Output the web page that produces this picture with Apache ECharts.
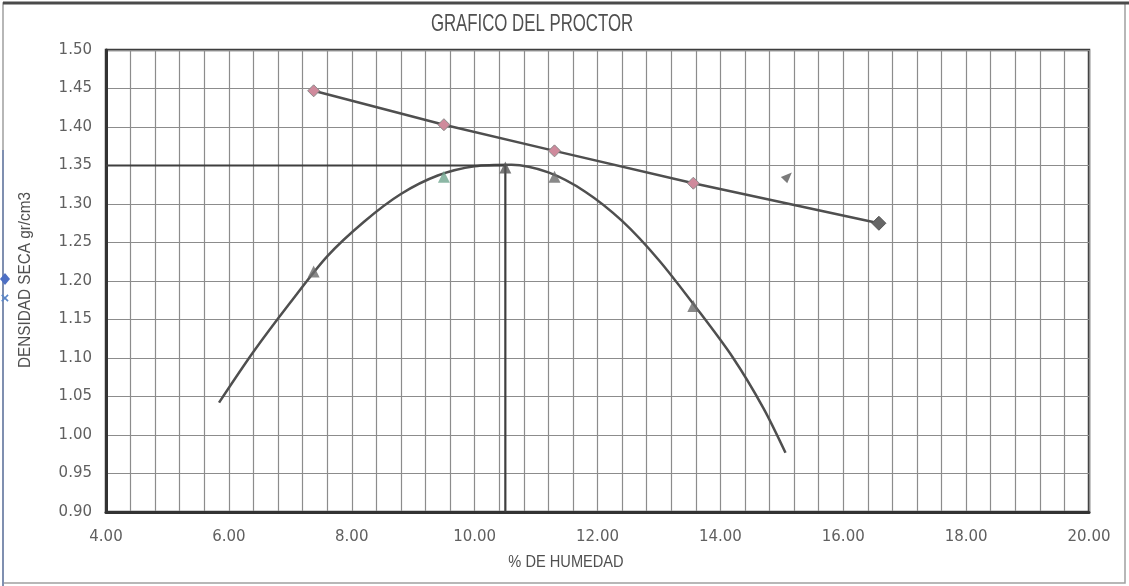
<!DOCTYPE html>
<html>
<head>
<meta charset="utf-8">
<title>GRAFICO DEL PROCTOR</title>
<script src="https://cdn.jsdelivr.net/npm/echarts@6/dist/echarts.min.js"></script>
<style>
  html, body { margin: 0; padding: 0; background: #ffffff; }
  #chart { width: 1129px; height: 586px; }
</style>
</head>
<body>
<div id="chart"></div>
<script>
// Ensayo Proctor: puntos de densidad seca vs. humedad
const humedad = [7.38, 9.50, 10.50, 11.30, 13.56];
const densidadSeca = [1.215, 1.338, 1.350, 1.338, 1.170];

// Curva de saturación (diamantes)
const saturacionX = [7.38, 9.50, 11.30, 13.56, 16.58];
const saturacionY = [1.447, 1.403, 1.369, 1.327, 1.275];

// Curva de compactación ajustada
const curvaX = [5.84, 6.40, 7.00, 7.60, 8.20, 8.80, 9.40, 10.00, 10.60, 11.20, 11.80, 12.40, 13.00, 13.60, 14.20, 14.70, 15.06];
const curvaY = [1.042, 1.108, 1.172, 1.232, 1.277, 1.313, 1.337, 1.349, 1.351, 1.341, 1.316, 1.278, 1.227, 1.166, 1.101, 1.035, 0.977];

// Humedad óptima y densidad máxima
const humedadOptima = 10.50;
const densidadMaxima = 1.35;

// Punto suelto
const puntoSueltoX = [15.10];
const puntoSueltoY = [1.336];

// Ejes
const ejeX = { min: 4, max: 20, interval: 2 };
const ejeY = { min: 0.90, max: 1.50, interval: 0.05 };

const zip = (xs, ys) => xs.map((x, i) => [x, ys[i]]);

const tickFont = "'DejaVu Sans', 'Liberation Sans', sans-serif";
const titleFont = "'Liberation Sans', Arial, sans-serif";

const chart = echarts.init(document.getElementById('chart'), null, { renderer: 'canvas' });

const trianguloColores = ['#6b6b6b', '#6fa58e', '#555555', '#6b6b6b', '#6b6b6b'];
const gridColor = '#8c8c8c';

chart.setOption({
  backgroundColor: '#ffffff',
  animation: false,
  grid: {
    left: 106, right: 40, top: 50, bottom: 74,
    show: true, borderColor: '#3d3d3d', borderWidth: 2.5, backgroundColor: 'transparent'
  },
  xAxis: {
    type: 'value',
    min: ejeX.min, max: ejeX.max, interval: ejeX.interval,
    axisLine: { show: true, onZero: false, lineStyle: { color: '#333', width: 3 } },
    axisTick: { show: false },
    minorTick: { show: false, splitNumber: 5 },
    splitLine: { show: true, lineStyle: { color: gridColor, width: 1.2 } },
    minorSplitLine: { show: true, lineStyle: { color: gridColor, width: 1.2 } },
    axisLabel: {
      color: '#606060', fontFamily: tickFont, fontSize: 15, margin: 18,
      formatter: v => v.toFixed(2)
    }
  },
  yAxis: {
    type: 'value',
    min: ejeY.min, max: ejeY.max, interval: ejeY.interval,
    axisLine: { show: true, onZero: false, lineStyle: { color: '#333', width: 3 } },
    axisTick: { show: false },
    splitLine: { show: true, lineStyle: { color: gridColor, width: 1.2 } },
    axisLabel: {
      color: '#606060', fontFamily: tickFont, fontSize: 15, margin: 14,
      formatter: v => v.toFixed(2)
    }
  },
  graphic: [
    // marco exterior
    { type: 'rect', shape: { x: 3, y: 3, width: 1122, height: 580 },
      style: { fill: 'none', stroke: '#a0a0a0', lineWidth: 1.5 }, silent: true },
    { type: 'line', shape: { x1: 3, y1: 3, x2: 1129, y2: 3 },
      style: { stroke: '#4a4a4a', lineWidth: 3 }, silent: true },
    { type: 'line', shape: { x1: 3, y1: 150, x2: 3, y2: 586 },
      style: { stroke: '#7f8fb0', lineWidth: 2 }, silent: true },
    // restos de leyenda en el borde izquierdo
    { type: 'polygon', shape: { points: [[5, 273], [10, 279], [5, 285], [0, 279]] },
      style: { fill: '#4d6fc4' }, silent: true },
    { type: 'text', x: 5, y: 299,
      style: { text: '×', fill: '#5a86c8', font: "bold 15px " + titleFont, align: 'center', verticalAlign: 'middle' }, silent: true },
    // títulos
    { type: 'text', x: 532, y: 24, scaleX: 0.70,
      style: { text: 'GRAFICO DEL PROCTOR', fill: '#505050', font: "24px " + titleFont,
               align: 'center', verticalAlign: 'middle' } },
    { type: 'text', x: 566, y: 562, scaleX: 0.86,
      style: { text: '% DE HUMEDAD', fill: '#505050', font: "17px " + titleFont,
               align: 'center', verticalAlign: 'middle' } },
    { type: 'text', x: 25, y: 280, rotation: Math.PI / 2, scaleX: 0.9,
      style: { text: 'DENSIDAD SECA gr/cm3', fill: '#505050', font: "17px " + titleFont,
               align: 'center', verticalAlign: 'middle' } }
  ],
  series: [
    {
      name: 'Curva',
      type: 'line',
      data: zip(curvaX, curvaY),
      smooth: 0.3,
      showSymbol: false,
      lineStyle: { color: '#4f4f4f', width: 2.5 },
      z: 3
    },
    {
      name: 'Óptimo',
      type: 'line',
      data: [[ejeX.min, densidadMaxima], [humedadOptima, densidadMaxima], [humedadOptima, ejeY.min]],
      showSymbol: false,
      lineStyle: { color: '#3f3f3f', width: 2.2 },
      z: 4
    },
    {
      name: 'Saturación',
      type: 'line',
      data: zip(saturacionX, saturacionY).map((p, i, arr) => ({
        value: p,
        symbolSize: i === arr.length - 1 ? 14 : 12,
        itemStyle: i === arr.length - 1
          ? { color: '#666666', borderColor: '#555555', borderWidth: 1 }
          : { color: '#cf8a9c', borderColor: '#8a8a8a', borderWidth: 1 }
      })),
      symbol: 'diamond',
      showAllSymbol: true,
      lineStyle: { color: '#4f4f4f', width: 2.5 },
      z: 5
    },
    {
      name: 'Densidad seca',
      type: 'scatter',
      data: zip(humedad, densidadSeca).map((p, i) => ({
        value: p,
        itemStyle: { color: trianguloColores[i] }
      })),
      symbol: 'triangle',
      symbolSize: 12,
      symbolOffset: [0, 2],
      z: 6
    },
    {
      name: 'Punto',
      type: 'scatter',
      data: zip(puntoSueltoX, puntoSueltoY),
      symbol: 'triangle',
      symbolSize: [9, 11],
      symbolRotate: -45,
      itemStyle: { color: '#5a5a5a' },
      z: 6
    }
  ]
});
</script>
</body>
</html>
